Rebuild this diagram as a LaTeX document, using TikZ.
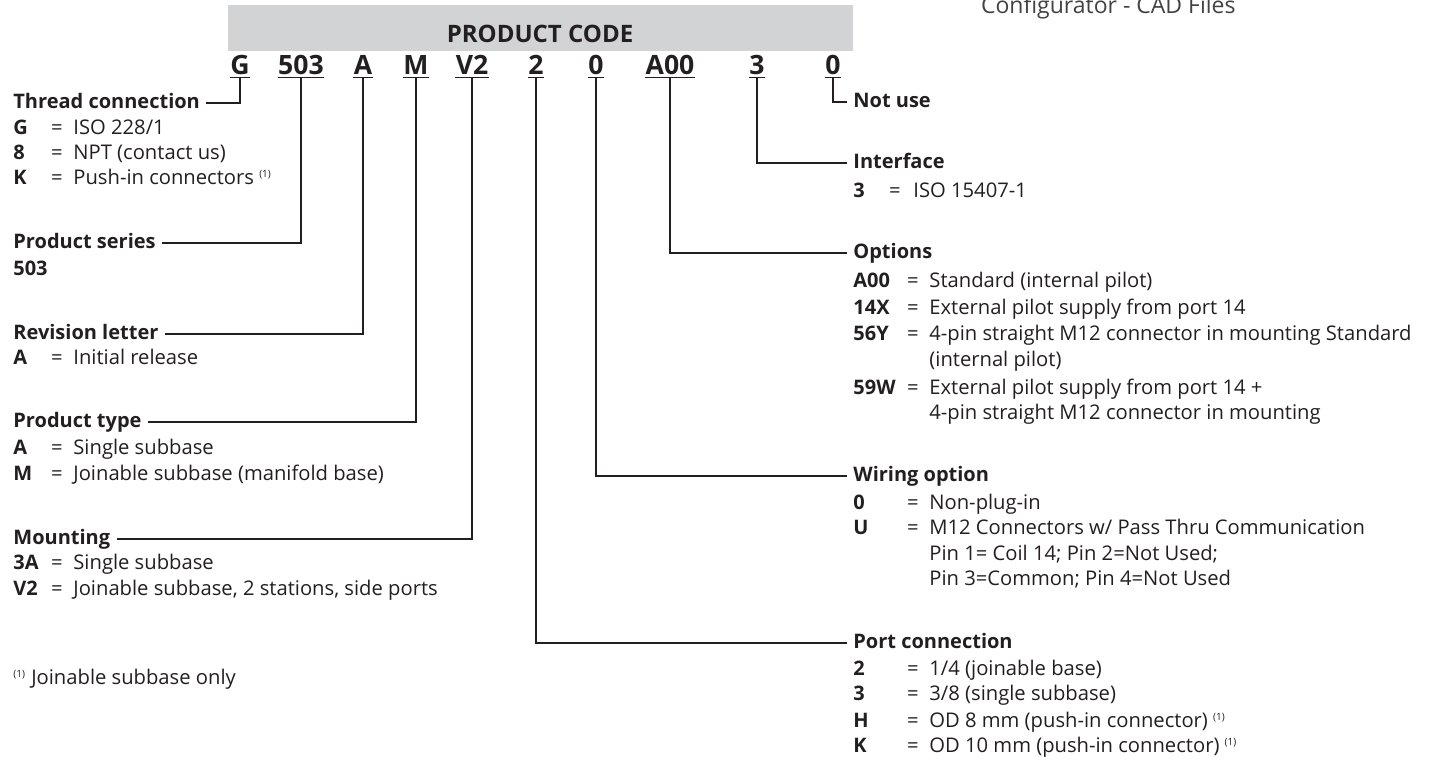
\documentclass[tikz,border=0pt]{standalone}
\usepackage{fontspec}
\setmainfont{Open Sans}
\usetikzlibrary{positioning}
\definecolor{ink}{HTML}{231F20}
\definecolor{boxgray}{HTML}{D1D3D4}
\newcommand{\lgdfont}{\fontsize{10.1}{12}\selectfont}
\newcommand{\hdfont}{\fontsize{10}{12}\selectfont\bfseries}
\newcommand{\pcfont}{\fontsize{13.3}{15}\selectfont\bfseries}
\newcommand{\ttlfont}{\fontsize{12}{14}\selectfont\bfseries}
\newcommand{\fnote}{~{\fontsize{7}{8}\selectfont\textsuperscript{(1)}}}
\begin{document}
\begin{tikzpicture}[x=0.5pt, y=-0.5pt,
  every node/.style={text=ink, font=\lgdfont},
  code/.style={font=\pcfont, inner xsep=0pt, inner ysep=1.5pt, anchor=base},
  head/.style={font=\hdfont, anchor=mid west, inner sep=3pt},
  key/.style={font=\hdfont, anchor=base west, inner sep=0pt},
  eq/.style={anchor=base, inner sep=0pt},
  val/.style={anchor=base west, inner sep=0pt},
  link/.style={draw=ink, line width=0.6pt}]
  \useasboundingbox (0,0) rectangle (1434,760);

  % header
  \fill[boxgray] (228,5) rectangle (853,51);
  \node[font=\ttlfont, anchor=base] (title) at (540,42) {PRODUCT CODE};
  \node[anchor=base west, font=\fontsize{11.5}{13}\selectfont, text=ink!85] (cfg) at (974,13) {Configurator - CAD Files};

  % code letters
  \node[code] (cG) at (240,74) {G};
  \node[code] (cS) at (301,74) {503};
  \node[code] (cR) at (363,74) {A};
  \node[code] (cT) at (416,74) {M};
  \node[code] (cM) at (472,74) {V2};
  \node[code] (cP) at (536,74) {2};
  \node[code] (cW) at (596,74) {0};
  \node[code] (cO) at (670,74) {A00};
  \node[code] (cI) at (757,74) {3};
  \node[code] (cN) at (833,74) {0};
  \foreach \n in {cG,cS,cR,cT,cM,cP,cW,cO,cI,cN}
    \draw[link] (\n.south west) -- (\n.south east);

  % left headings
  \node[head] (thread) at (7,103) {Thread connection};
  \node[head] (series) at (7,243) {Product series};
  \node[head] (revision) at (7,334) {Revision letter};
  \node[head] (ptype) at (7,422) {Product type};
  \node[head] (mounting) at (7,539) {Mounting};

  % right headings
  \node[head] (notuse) at (847,102) {Not use};
  \node[head] (interface) at (847,163) {Interface};
  \node[head] (options) at (847,253) {Options};
  \node[head] (wiring) at (847,476) {Wiring option};
  \node[head] (port) at (847,643) {Port connection};

  % connectors
  \draw[link] (cG.south) |- (thread.mid east);
  \draw[link] (cS.south) |- (series.mid east);
  \draw[link] (cR.south) |- (revision.mid east);
  \draw[link] (cT.south) |- (ptype.mid east);
  \draw[link] (cM.south) |- (mounting.mid east);
  \draw[link] (cP.south) |- (port.mid west);
  \draw[link] (cW.south) |- (wiring.mid west);
  \draw[link] (cO.south) |- (options.mid west);
  \draw[link] (cI.south) |- (interface.mid west);
  \draw[link] (cN.south) |- (notuse.mid west);

  % left column
  \foreach \y/\k/\v in {134/G/{ISO 228/1}, 159/8/{NPT (contact us)},
      184/K/{Push-in connectors\fnote}, 364/A/{Initial release},
      454/A/{Single subbase}, 480/M/{Joinable subbase (manifold base)},
      569/3A/{Single subbase}, 595/V2/{Joinable subbase, 2 stations, side ports}} {
    \node[key] (lk\y) at (13,\y) {\k};
    \node[eq] (le\y) at (57,\y) {=};
    \node[val] (lv\y) at (73,\y) {\v};
  }
  \node[key] (lk275) at (13,275) {503};
  \node[val] (note) at (13,684) {{\fontsize{7}{8}\selectfont\textsuperscript{(1)}} Joinable subbase only};

  % right column
  \node[key] (rk197) at (853,197) {3};
  \node[eq] (re197) at (895,197) {=};
  \node[val] (rv197) at (913,197) {ISO 15407-1};
  \foreach \y/\k/\v in {287/A00/{Standard (internal pilot)},
      314/14X/{External pilot supply from port 14},
      340/56Y/{4-pin straight M12 connector in mounting Standard},
      394/59W/{External pilot supply from port 14 +},
      509/0/{Non-plug-in}, 534/U/{M12 Connectors w/ Pass Thru Communication},
      675/2/{1/4 (joinable base)}, 700/3/{3/8 (single subbase)},
      727/H/{OD 8 mm (push-in connector)\fnote},
      752/K/{OD 10 mm (push-in connector)\fnote}} {
    \node[key] (rk\y) at (853,\y) {\k};
    \node[eq] (re\y) at (913,\y) {=};
    \node[val] (rv\y) at (929,\y) {\v};
  }
  \foreach \y/\v in {366/{(internal pilot)},
      419/{4-pin straight M12 connector in mounting},
      560/{Pin 1= Coil 14; Pin 2=Not Used;},
      585/{Pin 3=Common; Pin 4=Not Used}}
    \node[val] (rv\y) at (929,\y) {\v};
\end{tikzpicture}
\end{document}
